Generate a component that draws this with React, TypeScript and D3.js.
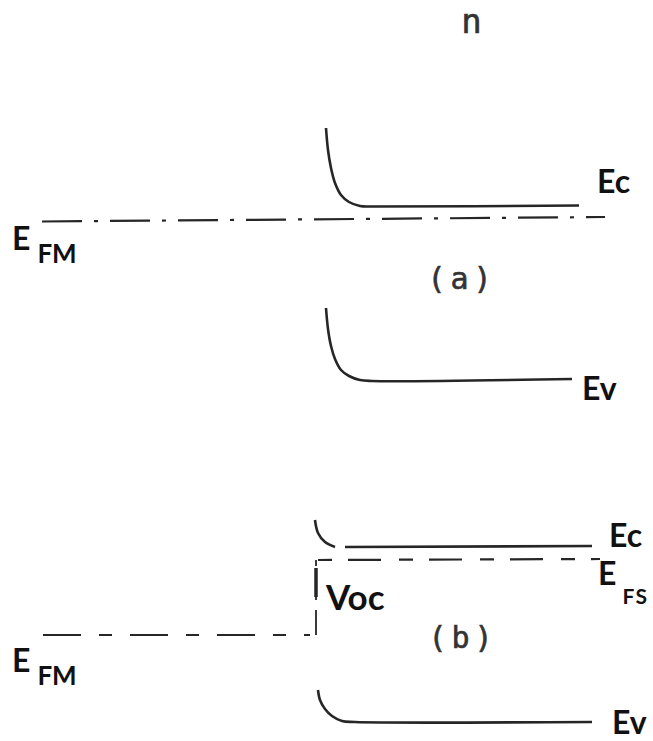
import * as d3 from 'd3';

// position along the device (arbitrary units) and electron energy (arbitrary units, up = higher)
type Pt = [number, number];

// panel (a): metal / n-type semiconductor in the dark
const ecA: Pt[] = [[32.6, 61.3], [32.8, 59.1], [33.1, 57.3], [33.5, 55.8], [34.1, 54.6], [34.9, 53.9], [36.0, 53.5], [37.2, 53.45], [57.9, 53.55]];
const evA: Pt[] = [[32.6, 43.3], [32.8, 41.2], [33.1, 39.5], [33.5, 38.2], [34.1, 37.1], [34.9, 36.5], [36.0, 36.1], [37.2, 36.0], [57.2, 36.2]];
const efmA: Pt[] = [[4.2, 51.95], [60.5, 52.4]];

// panel (b): under illumination, open circuit
const ecBendB: Pt[] = [[31.5, 22.1], [31.8, 20.8], [32.5, 19.9], [33.5, 19.4]];
const ecFlatB: Pt[] = [[34.5, 19.4], [59.2, 19.5]];
const efsB: Pt[] = [[31.8, 18.1], [60.0, 18.2]];
const vocB: Pt[] = [[31.6, 18.1], [31.6, 10.6]];
const vocBold: Pt[] = [[31.6, 17.3], [31.6, 14.4]];
const efmB: Pt[] = [[4.3, 10.6], [31.0, 10.6]];
const evB: Pt[] = [[31.8, 5.1], [32.0, 4.1], [32.5, 3.2], [33.2, 2.5], [34.2, 2.0], [35.5, 1.9], [59.2, 1.9]];

const W = 653;
const H = 741;

const x = d3.scaleLinear().domain([0, 65.3]).range([0, W]);
const y = d3.scaleLinear().domain([0, 74.1]).range([H, 0]);

const curve = d3.line<Pt>().x(d => x(d[0])).y(d => y(d[1])).curve(d3.curveCatmullRom.alpha(0.5));
const straight = d3.line<Pt>().x(d => x(d[0])).y(d => y(d[1]));

const ink = '#262626';
const labelFont = 'Lato, "Open Sans", sans-serif';
const typeFont = '"DejaVu Sans Mono", monospace';

type LabelProps = { px: number; py: number; main: string; sub?: string; size?: number; subSize?: number; dx?: number; dy?: number; subSpacing?: number };

const Label = ({ px, py, main, sub, size = 32, subSize = 26, dx = 7, dy = 13, subSpacing = 0 }: LabelProps) => (
  <text x={px} y={py} fontFamily={labelFont} fontWeight={700} fontSize={size} fill="#111">
    {main}
    {sub && (
      <tspan dx={dx} dy={dy} fontSize={subSize} letterSpacing={subSpacing}>
        {sub}
      </tspan>
    )}
  </text>
);

const Tag = ({ px, py, text, size }: { px: number; py: number; text: string; size: number }) => (
  <text x={px} y={py} textAnchor="middle" fontFamily={typeFont} fontSize={size} letterSpacing={5}
    fill="#333" stroke="#333" strokeWidth={0.6}>
    {text}
  </text>
);

export default function App() {
  return (
    <svg width={W} height={H} style={{ position: 'absolute', left: 0, top: 0, background: '#fff' }}>
      <rect width={W} height={H} fill="#fff" />

      {/* n-side header and panel tags */}
      <Tag px={474} py={33} text="n" size={34} />
      <Tag px={462} py={289} text="(a)" size={30} />
      <Tag px={463} py={648} text="(b)" size={30} />

      {/* panel (a) */}
      <path d={curve(ecA) ?? ''} fill="none" stroke={ink} strokeWidth={2.6} />
      <path d={curve(evA) ?? ''} fill="none" stroke={ink} strokeWidth={2.6} />
      <path d={straight(efmA) ?? ''} fill="none" stroke={ink} strokeWidth={2.2} strokeDasharray="40 12 4 12" />

      {/* panel (b) */}
      <path d={curve(ecBendB) ?? ''} fill="none" stroke={ink} strokeWidth={2.6} />
      <path d={straight(ecFlatB) ?? ''} fill="none" stroke={ink} strokeWidth={2.6} />
      <path d={straight(efsB) ?? ''} fill="none" stroke={ink} strokeWidth={2.2} strokeDasharray="14 16 33 18" />
      <path d={straight(vocB) ?? ''} fill="none" stroke={ink} strokeWidth={1.8} strokeDasharray="6 4 30 10 26 2" />
      <path d={straight(vocBold) ?? ''} fill="none" stroke={ink} strokeWidth={3.5} />
      <path d={straight(efmB) ?? ''} fill="none" stroke={ink} strokeWidth={2.2} strokeDasharray="38 18 13 18" />
      <path d={curve(evB) ?? ''} fill="none" stroke={ink} strokeWidth={2.6} />

      {/* labels */}
      <Label px={597} py={193} main="Ec" />
      <Label px={12} py={250} main="E" sub="FM" />
      <Label px={582} py={400} main="Ev" />
      <Label px={609} py={547} main="Ec" />
      <Label px={598} py={585} main="E" sub="FS" subSize={21} dx={6} dy={19} subSpacing={1.5} />
      <Label px={326} py={610} main="Voc" size={35} />
      <Label px={12} py={672} main="E" sub="FM" />
      <Label px={612} py={734} main="Ev" />
    </svg>
  );
}
